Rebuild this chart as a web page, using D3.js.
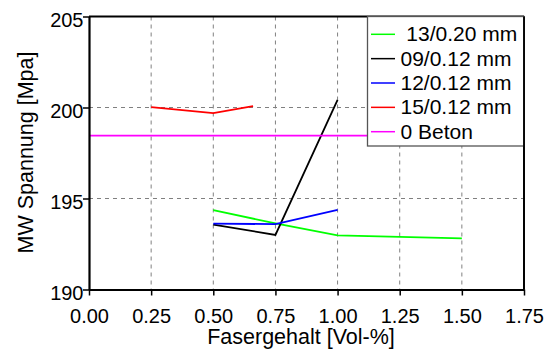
<!DOCTYPE html>
<html><head><meta charset="utf-8">
<script src="https://cdn.jsdelivr.net/npm/d3@7"></script>
<style>
html,body{margin:0;padding:0;background:#fff;}
svg text{font-family:"Liberation Sans",Arial,sans-serif;fill:#000;white-space:pre;}
</style></head>
<body><svg id="c" width="551" height="351"></svg>
<script>
const xTicks = [0, 0.25, 0.5, 0.75, 1.0, 1.25, 1.5, 1.75];
const yTicks = [190, 195, 200, 205];
const seriesNames = [" 13/0.20 mm", "09/0.12 mm", "12/0.12 mm", "15/0.12 mm", "0 Beton"];
const seriesColors = ["#00ff00", "#000000", "#0000ff", "#ff0000", "#ff00ff"];
const greenX = [0.5, 0.75, 1.0, 1.5];
const greenY = [194.36, 193.63, 192.97, 192.81];
const blackX = [0.5, 0.75, 1.0];
const blackY = [193.57, 193.0, 200.42];
const blueX = [0.5, 0.75, 1.0];
const blueY = [193.62, 193.59, 194.38];
const redX = [0.25, 0.5, 0.66];
const redY = [200.02, 199.69, 200.08];
const betonX = [0, 1.75];
const betonY = [198.45, 198.45];

const series = [
  {x: greenX, y: greenY},
  {x: blackX, y: blackY},
  {x: blueX, y: blueY},
  {x: redX, y: redY},
  {x: betonX, y: betonY}
];

const L = 89, R = 524, T = 16.5, B = 289.5;
const svg = d3.select("#c");
const x = d3.scaleLinear().domain([0, 1.75]).range([L, R]);
const y = d3.scaleLinear().domain([190, 205]).range([B, T]);

// grid
const grid = svg.append("g");
grid.selectAll("line.vg").data(xTicks.filter(v => v > 0 && v < 1.75)).enter().append("line")
  .attr("x1", d => x(d)).attr("x2", d => x(d)).attr("y1", T).attr("y2", B)
  .attr("stroke", "#808080").attr("stroke-width", 1).attr("stroke-dasharray", "4,4");
grid.selectAll("line.hg").data(yTicks.filter(v => v > 190 && v < 205)).enter().append("line")
  .attr("x1", L).attr("x2", R).attr("y1", d => y(d)).attr("y2", d => y(d))
  .attr("stroke", "#808080").attr("stroke-width", 1).attr("stroke-dasharray", "4,4");

// series
const line = d3.line().x(d => x(d[0])).y(d => y(d[1]));
series.forEach((s, i) => {
  svg.append("path").datum(s.x.map((v, j) => [v, s.y[j]]))
    .attr("d", line).attr("fill", "none").attr("stroke", seriesColors[i]).attr("stroke-width", 1.8);
});

// frame top/right
svg.append("line").attr("x1", L).attr("x2", R).attr("y1", T).attr("y2", T).attr("stroke", "#000").attr("stroke-width", 1.8);
svg.append("line").attr("x1", R).attr("x2", R).attr("y1", T).attr("y2", B).attr("stroke", "#000").attr("stroke-width", 1.8);

// axes
const xAxis = d3.axisBottom(x).tickValues(xTicks).tickFormat(d3.format(".2f")).tickSizeInner(6).tickSizeOuter(0).tickPadding(4);
const gx = svg.append("g").attr("transform", `translate(0,${B})`).call(xAxis);
gx.select(".domain").attr("stroke", "#000").attr("stroke-width", 2.2);
gx.selectAll(".tick line").attr("stroke", "#000").attr("stroke-width", 1.5);
gx.selectAll(".tick text").attr("font-size", 20).attr("dy", null).attr("y", 33).attr("font-family", null);

const yAxis = d3.axisLeft(y).tickValues(yTicks).tickFormat(d3.format("d")).tickSizeInner(6).tickSizeOuter(0).tickPadding(6);
const gy = svg.append("g").attr("transform", `translate(${L},0)`).call(yAxis);
gy.select(".domain").attr("stroke", "#000").attr("stroke-width", 2.2);
gy.selectAll(".tick line").attr("stroke", "#000").attr("stroke-width", 1.5);
gy.selectAll(".tick text").attr("font-size", 20).attr("dy", null).attr("y", 9.5).attr("x", -5.5).attr("font-family", null);
svg.selectAll(".tick text").attr("fill", "#000");
gx.attr("font-family", null); gy.attr("font-family", null);

// axis titles
svg.append("text").attr("x", 301).attr("y", 344).attr("text-anchor", "middle").attr("font-size", 21.5).text("Fasergehalt [Vol-%]");
svg.append("text").attr("transform", "translate(33,152.5) rotate(-90)").attr("text-anchor", "middle").attr("font-size", 21.5).text("MW Spannung [Mpa]");

// legend
const lg = svg.append("g");
lg.append("rect").attr("x", 367.5).attr("y", 16.5).attr("width", R - 367.5).attr("height", 129.5)
  .attr("fill", "#fff").attr("stroke", "#555").attr("stroke-width", 1.3);
seriesNames.forEach((n, i) => {
  const ly = 34.3 + i * 24.35;
  lg.append("line").attr("x1", 371).attr("x2", 395).attr("y1", ly).attr("y2", ly)
    .attr("stroke", seriesColors[i]).attr("stroke-width", 1.5);
  lg.append("text").attr("x", 400.5).attr("y", ly + 7).attr("font-size", 21).text(n);
});
// redraw frame over legend edges
svg.append("line").attr("x1", R).attr("x2", R).attr("y1", T).attr("y2", B).attr("stroke", "#000").attr("stroke-width", 1.8);
</script></body></html>
